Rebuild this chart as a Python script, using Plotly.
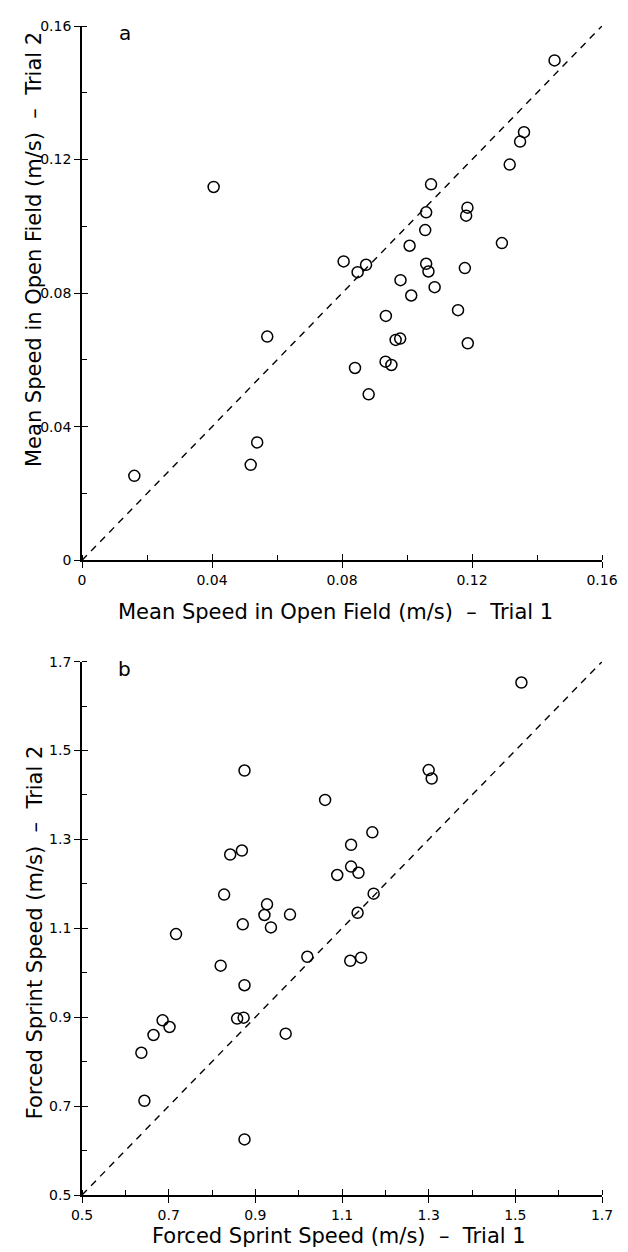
import plotly.graph_objects as go

# Panel a: mean speed in open field (m/s)
a_trial1 = [0.0405, 0.1454, 0.1360, 0.1348, 0.1316, 0.1074, 0.1186, 0.1182, 0.1059,
            0.1056, 0.1008, 0.1292, 0.0805, 0.0874, 0.0848, 0.1059, 0.1066, 0.1178,
            0.0980, 0.1085, 0.1013, 0.1157, 0.0935, 0.0965, 0.0979, 0.1187, 0.0840,
            0.0934, 0.0952, 0.0882, 0.0570, 0.0539, 0.0519, 0.0161]
a_trial2 = [0.1118, 0.1497, 0.1282, 0.1254, 0.1185, 0.1126, 0.1056, 0.1032, 0.1042,
            0.0989, 0.0942, 0.0950, 0.0895, 0.0885, 0.0863, 0.0888, 0.0865, 0.0875,
            0.0839, 0.0818, 0.0793, 0.0749, 0.0732, 0.0660, 0.0664, 0.0650, 0.0576,
            0.0595, 0.0585, 0.0497, 0.0670, 0.0353, 0.0286, 0.0253]

# Panel b: forced sprint speed (m/s)
b_trial1 = [0.875, 0.842, 0.869, 0.828, 0.927, 0.921, 0.980, 0.871, 0.936, 0.717,
            1.514, 1.300, 1.307, 1.061, 1.170, 1.121, 1.121, 1.138, 1.089, 1.173,
            1.136, 1.020, 1.119, 1.144, 0.820, 0.875, 0.858, 0.873, 0.970, 0.686,
            0.702, 0.665, 0.637, 0.644, 0.875]
b_trial2 = [1.455, 1.266, 1.275, 1.176, 1.154, 1.130, 1.131, 1.109, 1.102, 1.087,
            1.653, 1.456, 1.437, 1.389, 1.316, 1.288, 1.239, 1.225, 1.220, 1.178,
            1.135, 1.036, 1.027, 1.034, 1.016, 0.972, 0.897, 0.899, 0.863, 0.893,
            0.878, 0.860, 0.820, 0.712, 0.625]

diag_a = [0, 0.16]
diag_b = [0.5, 1.7]

ticks_a = [0, 0.04, 0.08, 0.12, 0.16]
ticklabels_a = ["0", "0.04", "0.08", "0.12", "0.16"]
ticks_b = [0.5, 0.7, 0.9, 1.1, 1.3, 1.5, 1.7]
ticklabels_b = ["0.5", "0.7", "0.9", "1.1", "1.3", "1.5", "1.7"]

title_ax = "Mean Speed in Open Field (m/s)  \u2013  Trial 1"
title_ay = "Mean Speed in Open Field (m/s)  \u2013  Trial 2"
title_bx = "Forced Sprint Speed (m/s)  \u2013  Trial 1"
title_by = "Forced Sprint Speed (m/s)  \u2013  Trial 2"

FONT = "DejaVu Sans"
BODY = 8  # default page body margin offsets the figure
PAGE_W, PAGE_H = 628, 1252
W, H = PAGE_W - BODY, PAGE_H - BODY
# page-pixel positions of the plot area
PL, PR, PT, PB = 82, 608, 18, 1195
ML, MR, MT, MB = PL - BODY, PAGE_W - PR, PT - BODY, PAGE_H - PB
PW, PH = W - ML - MR, H - MT - MB

def fy(py):  # page pixel y -> paper y
    return (PB - py) / PH

def fx(px):
    return (px - PL) / PW

dom_a = [fy(556), 1.0]
dom_b = [0.0, fy(658)]

fig = go.Figure()
marker = dict(symbol="circle-open", size=11, color="black", line=dict(width=1.5, color="black"))
dash_line = dict(color="black", width=1.4, dash="7px,6px")

fig.add_trace(go.Scatter(x=diag_a, y=diag_a, mode="lines", xaxis="x", yaxis="y",
                         line=dash_line, showlegend=False))
fig.add_trace(go.Scatter(x=a_trial1, y=a_trial2, mode="markers", xaxis="x", yaxis="y",
                         marker=marker, showlegend=False))
fig.add_trace(go.Scatter(x=diag_b, y=diag_b, mode="lines", xaxis="x2", yaxis="y2",
                         line=dash_line, showlegend=False))
fig.add_trace(go.Scatter(x=b_trial1, y=b_trial2, mode="markers", xaxis="x2", yaxis="y2",
                         marker=marker, showlegend=False))
# empty traces on overlay axes (for crossing major ticks)
for xa, ya in [("x3", "y"), ("x", "y3"), ("x4", "y2"), ("x2", "y4")]:
    fig.add_trace(go.Scatter(x=[], y=[], xaxis=xa, yaxis=ya, showlegend=False))

tickfont = dict(family=FONT, size=14, color="black")

def main_axis(rng, vals, labels, dom, anchor, minor_dtick):
    return dict(range=rng, domain=dom, anchor=anchor, tickmode="array", tickvals=vals,
                ticktext=labels, ticks="outside", ticklen=6, tickwidth=1.4, tickcolor="black",
                showline=True, linecolor="black", linewidth=1.8, showgrid=False, zeroline=False,
                tickfont=tickfont, fixedrange=True,
                minor=dict(dtick=minor_dtick, tick0=rng[0], ticks="inside", ticklen=5,
                           tickwidth=1.2, tickcolor="black", showgrid=False))

def overlay_axis(rng, vals, over, anchor, side):
    return dict(range=rng, overlaying=over, anchor=anchor, side=side, tickmode="array",
                tickvals=vals, ticks="inside", ticklen=6, tickwidth=1.4, tickcolor="black",
                showticklabels=False, showline=False, showgrid=False, zeroline=False,
                fixedrange=True)

fig.update_layout(
    width=W, height=H, margin=dict(l=ML, r=MR, t=MT, b=MB),
    paper_bgcolor="white", plot_bgcolor="white",
    font=dict(family=FONT, color="black"),
    xaxis=main_axis([0, 0.16], ticks_a, ticklabels_a, [0, 1], "y", 0.02),
    yaxis=main_axis([0, 0.16], ticks_a, ticklabels_a, dom_a, "x", 0.02),
    xaxis2=main_axis([0.5, 1.7], ticks_b, ticklabels_b, [0, 1], "y2", 0.1),
    yaxis2=main_axis([0.5, 1.7], ticks_b, ticklabels_b, dom_b, "x2", 0.1),
    xaxis3=overlay_axis([0, 0.16], ticks_a, "x", "y", "bottom"),
    yaxis3=overlay_axis([0, 0.16], ticks_a, "y", "x", "left"),
    xaxis4=overlay_axis([0.5, 1.7], ticks_b, "x2", "y2", "bottom"),
    yaxis4=overlay_axis([0.5, 1.7], ticks_b, "y2", "x2", "left"),
)

tfont = dict(family=FONT, size=21, color="black")
ann = [
    dict(text=title_ax, x=fx(338), y=fy(608), xref="paper", yref="paper", showarrow=False,
         font=tfont, xanchor="center", yanchor="middle"),
    dict(text=title_bx, x=fx(342), y=fy(1236), xref="paper", yref="paper", showarrow=False,
         font=tfont, xanchor="center", yanchor="middle"),
    dict(text=title_ay, x=fx(34), y=fy(243), xref="paper", yref="paper",
         showarrow=False, font=tfont, textangle=-90, xanchor="center", yanchor="middle"),
    dict(text=title_by, x=fx(34), y=fy(931), xref="paper", yref="paper",
         showarrow=False, font=tfont, textangle=-90, xanchor="center", yanchor="middle"),
    dict(text="a", x=fx(125), y=fy(25), xref="paper", yref="paper", showarrow=False,
         font=dict(family=FONT, size=20, color="black"), xanchor="center", yanchor="middle"),
    dict(text="b", x=fx(125), y=fy(665), xref="paper", yref="paper", showarrow=False,
         font=dict(family=FONT, size=20, color="black"), xanchor="center", yanchor="middle"),
]
fig.update_layout(annotations=ann)

fig.write_html("out.html")
